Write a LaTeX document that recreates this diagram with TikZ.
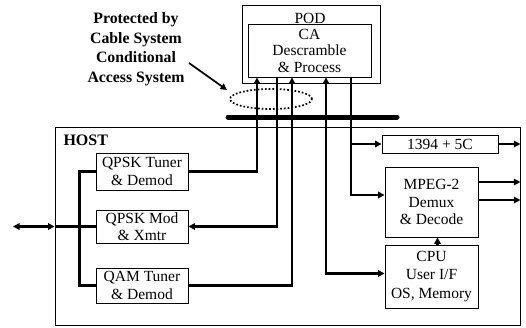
\documentclass[tikz,border=0pt]{standalone}
\usepackage{fontspec}
\setmainfont{Liberation Serif}
\usetikzlibrary{arrows.meta,shapes.geometric}
\begin{document}
\begin{tikzpicture}[x=1pt,y=-1pt,
  box/.style={draw,line width=0.9pt,align=center,inner sep=0pt,font=\fontsize{15.5}{17.5}\selectfont},
  bus/.style={line width=2.6pt},
  thin/.style={line width=1.2pt},
  tip/.style={-{Triangle[length=6.5pt,width=6.5pt]}},
  tips/.style={{Triangle[length=6.5pt,width=6.5pt]}-{Triangle[length=6.5pt,width=6.5pt]}},
  bold/.style={font=\bfseries\fontsize{15.8}{19.5}\selectfont,align=center}
]
\useasboundingbox (0,0) rectangle (526,327);
% boxes
\node[draw,line width=0.9pt,minimum width=138pt,minimum height=78pt] (pod) at (311,44) {};
\node[font=\fontsize{15.5}{15.5}\selectfont] (podlabel) at (310,18) {POD};
\node[box,font=\fontsize{15.5}{16.5}\selectfont,minimum width=123pt,minimum height=53pt] (ca) at (309.5,50.5) {CA\\Descramble\\\& Process};
\node[draw,line width=0.9pt,minimum width=465pt,minimum height=198pt] (host) at (287.5,226) {};
\node[font=\bfseries\fontsize{16}{16}\selectfont,anchor=west] (hostlabel) at (60,140) {HOST};
\node[box,minimum width=92pt,minimum height=37pt] (qpskt) at (142,171.5) {QPSK Tuner\\\& Demod};
\node[box,minimum width=92pt,minimum height=33pt] (qpskm) at (142,226.5) {QPSK Mod\\\& Xmtr};
\node[box,minimum width=92pt,minimum height=35pt] (qamt) at (142,285.5) {QAM Tuner\\\& Demod};
\node[box,minimum width=116pt,minimum height=18pt] (f1394) at (440,144) {1394 + 5C};
\node[box,minimum width=93pt,minimum height=70pt] (mpeg) at (431.5,202) {MPEG-2\\Demux\\\& Decode};
\node[box,font=\fontsize{15.5}{18.5}\selectfont,minimum width=93pt,minimum height=63pt] (cpu) at (431.5,276.5) {CPU\\User I/F\\OS, Memory};
% annotation
\node[bold] (anno) at (136,49) {Protected by\\Cable System\\Conditional\\Access System};
\node[draw,ellipse,dotted,line width=1.7pt,minimum width=82pt,minimum height=20pt,inner sep=0pt] (prot) at (271,99) {};
\coordinate (annostart) at (189,63);
\coordinate (annoend) at (227,90);
\draw[line width=1.7pt,tip] (annostart) -- (annoend);
% thick bar
\coordinate (bl) at (228,117);
\coordinate (br) at (397,117);
\draw[line width=5pt,line cap=round] (bl) -- (br);
% POD connections
\draw[bus,tip] (qpskt.east) -| (257,0 |- ca.south);
\draw[bus,tip] (277,0 |- ca.south) |- (qpskm.east);
\draw[bus,tip] (qamt.east) -| (292,0 |- ca.south);
\draw[bus,tips] (326,0 |- ca.south) |- ([yshift=3pt]cpu.west);
\draw[bus,tip] (351,0 |- ca.south) |- ([yshift=7pt]mpeg.west);
\draw[bus,tip] (351,0 |- f1394.west) -- (f1394.west);
\draw[bus,tip] ([xshift=6pt]cpu.north) -- ([xshift=6pt]mpeg.south);
% outputs
\coordinate (mo1) at ([yshift=20pt]mpeg.east);
\coordinate (mo2) at ([yshift=2pt]mpeg.east);
\draw[thin,tip] (f1394.east) -- (f1394.east -| host.east);
\draw[thin,tip] (mo1) -- (mo1 -| host.east);
\draw[thin,tip] (mo2) -- (mo2 -| host.east);
% left side
\draw[bus] (qpskt.west) -- ++(-16,0) |- (qamt.west);
\draw[bus] (host.west |- qpskm.west) -- (qpskm.west);
\coordinate (ext) at (13,0);
\draw[bus,tips] (ext |- qpskm.west) -- (host.west |- qpskm.west);
\end{tikzpicture}
\end{document}
